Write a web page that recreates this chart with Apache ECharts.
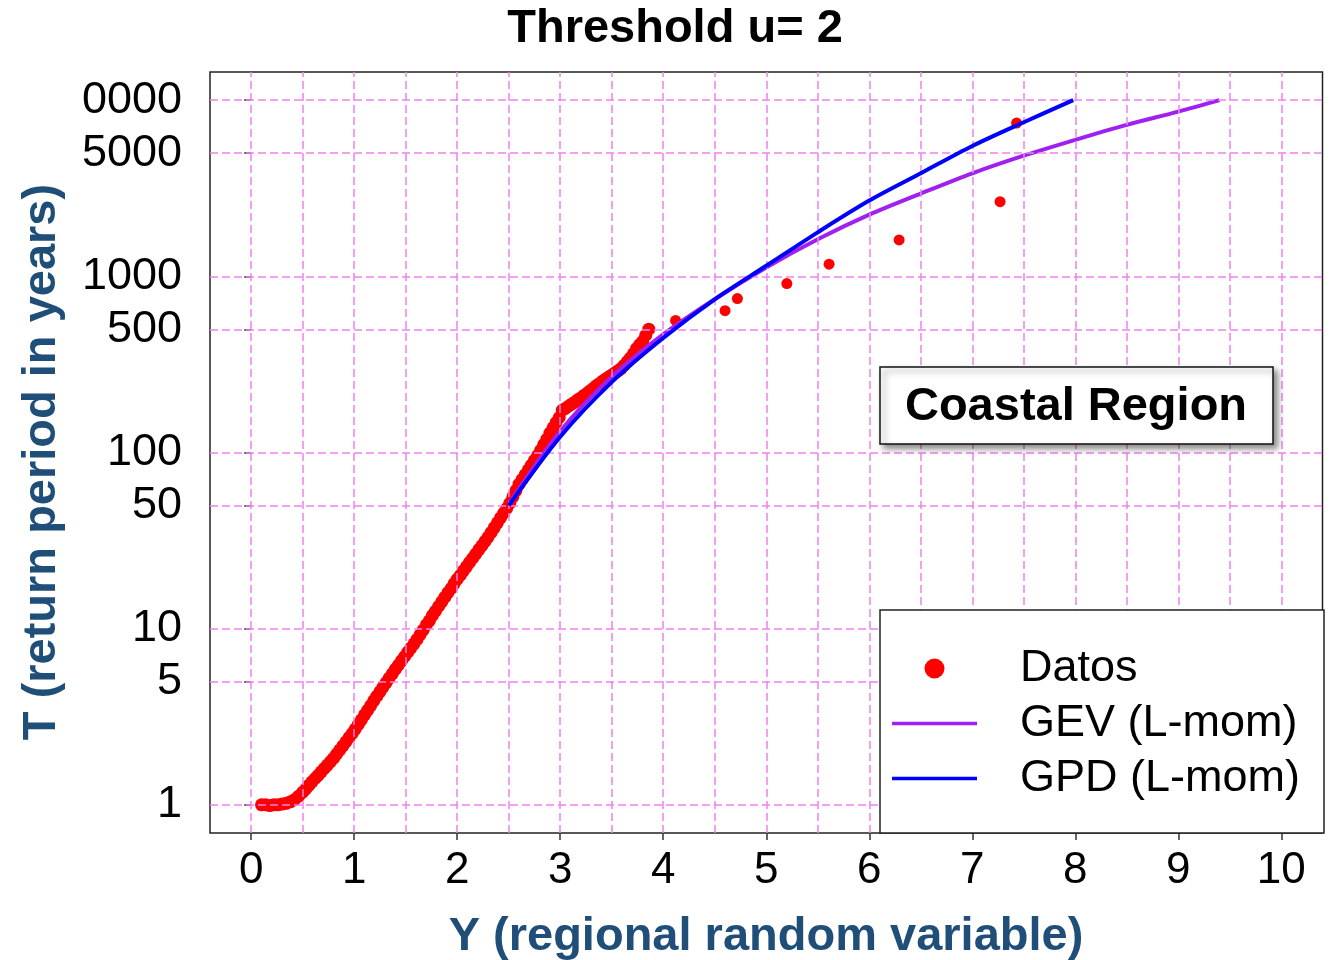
<!DOCTYPE html>
<html><head><meta charset="utf-8">
<script src="https://cdn.jsdelivr.net/npm/echarts@6/dist/echarts.min.js"></script>
<style>html,body{margin:0;padding:0;background:#fff}#c{width:1334px;height:960px}</style>
</head><body><div id="c"></div>
<script>
// ---- data ----
const datosY = [0.10,0.14,0.18,0.22,0.26,0.30,0.34,0.38,0.42,0.46,
  0.50,0.53,0.56,0.59,0.62,0.65,0.68,0.71,0.74,0.77,0.80,0.83,0.86,0.89,0.92,0.95,0.98,
  1.01,1.04,1.07,1.10,1.13,1.16,1.19,1.22,1.25,1.28,1.31,1.34,1.37,1.40,1.43,1.46,1.49,
  1.52,1.55,1.58,1.61,1.64,1.67,1.70,1.73,1.76,1.79,1.82,1.85,1.88,1.91,1.94,1.97,
  2.00,2.03,2.06,2.09,2.12,2.15,2.18,2.21,2.24,2.27,2.30,2.33,2.36,2.39,2.42,2.45,2.48,
  2.51,2.54,2.57,2.60,2.63,2.66,2.69,2.72,2.75,2.78,2.81,2.84,2.87,2.90,2.93,2.96,2.99,
  3.02,3.05,3.08,3.11,3.14,3.17,3.20,3.23,3.26,3.29,3.32,3.35,3.38,3.41,3.44,3.47,3.50,
  3.53,3.56,3.59,3.62,3.65,3.68,3.71,3.74,3.77,3.80,3.83,3.86,
  4.12,4.60,4.72,5.20,5.61,6.29,7.27,7.43];
const datosT = [1.00,1.00,0.99,1.00,1.00,1.01,1.02,1.04,1.07,1.12,
  1.18,1.23,1.29,1.35,1.41,1.47,1.54,1.61,1.68,1.76,1.84,1.94,2.05,2.16,2.28,2.41,2.54,
  2.69,2.86,3.04,3.24,3.44,3.66,3.90,4.14,4.39,4.66,4.94,5.24,5.55,5.89,6.22,6.58,6.95,
  7.35,7.76,8.20,8.69,9.25,9.84,10.5,11.1,11.9,12.6,13.4,14.2,15.1,16.0,16.9,18.0,
  19.1,20.1,21.3,22.5,23.8,25.1,26.5,28.1,29.6,31.3,33.1,35.2,37.5,39.9,42.5,45.2,48.1,
  51.5,56.0,60.8,66.1,70.3,74.8,79.6,84.7,90.2,95.9,103,111,119,129,138,148,158,
  174,178,183,188,193,199,204,211,217,224,231,239,246,254,261,268,275,
  283,291,299,312,327,344,363,389,409,427,463,501,
  562,638,748,910,1172,1610,2654,7410];

const gevY = [2.5,3.0,3.5,4.0,4.5,5.0,5.5,6.0,6.5,7.0,7.5,8.0,8.5,9.0,9.4];
const gevT = [51,132,269,468,741,1122,1622,2239,2951,3846,4842,5957,7244,8610,10000];

const gpdY = [2.5,3.0,3.5,4.0,4.5,5.0,5.5,6.0,6.5,7.0,7.5,7.98];
const gpdT = [50,123,251,447,741,1148,1778,2692,3846,5495,7499,10000];

const xTicks = [0,1,2,3,4,5,6,7,8,9,10];
const xGrid = [0,0.5,1,1.5,2,2.5,3,3.5,4,4.5,5,5.5,6,6.5,7,7.5,8,8.5,9,9.5,10];
const yTicks = [1,5,10,50,100,500,1000,5000,10000];
const yTickLabels = ['1','5','10','50','100','500','1000','5000','0000'];

const titleText = 'Threshold u= 2';
const xName = 'Y (regional random variable)';
const yName = 'T (return period in years)';
const boxText = 'Coastal Region';
const seriesNames = ['Datos','GEV (L-mom)','GPD (L-mom)'];

// ---- chart ----
const FONT = 'Liberation Sans, Arial, sans-serif';
const pairs = (xs, ys) => xs.map((x, i) => [x, ys[i]]);
const chart = echarts.init(document.getElementById('c'), null, {renderer: 'canvas'});
const lineIcon = 'path://M0,0H85V3.5H0Z';

chart.setOption({
  animation: false,
  backgroundColor: '#fff',
  grid: {left: 210, top: 72, right: 11.5, bottom: 127, show: true,
         borderColor: '#222', borderWidth: 1.5, backgroundColor: 'transparent'},
  xAxis: {
    type: 'value', min: -0.4, max: 10.4,
    axisLine: {show: false},
    splitLine: {show: false},
    axisTick: {show: true, customValues: xTicks, length: 7, lineStyle: {color: '#333', width: 1.5}},
    axisLabel: {customValues: xTicks, fontSize: 44, color: '#000', margin: 16, fontFamily: FONT}
  },
  yAxis: {
    type: 'log', logBase: 10, min: Math.pow(10, -0.16), max: Math.pow(10, 4.16),
    axisLine: {show: false},
    splitLine: {show: false},
    axisTick: {show: true, customValues: yTicks, length: 7, lineStyle: {color: '#333', width: 1.5}},
    axisLabel: {customValues: yTicks, fontSize: 45, color: '#000', margin: 28, fontFamily: FONT,
      formatter: v => { const i = yTicks.findIndex(t => Math.abs(t - v) / t < 1e-6); return i >= 0 ? yTickLabels[i] : ''; }}
  },
  legend: {
    data: [{name: seriesNames[0], icon: 'circle'},
           {name: seriesNames[1], icon: lineIcon},
           {name: seriesNames[2], icon: lineIcon}],
    orient: 'vertical', left: 880, top: 610,
    padding: [31, 24, 27, 12], itemGap: 0,
    itemWidth: 85, itemHeight: 20,
    backgroundColor: '#fff', borderColor: '#222', borderWidth: 1.5,
    textStyle: {fontSize: 45, color: '#000', fontFamily: FONT, lineHeight: 55, padding: [0, 0, 0, 38]},
    z: 20
  },
  series: [
    {
      name: 'gridlines', type: 'line', data: [], z: 1, silent: true,
      markLine: {
        silent: true, symbol: 'none', label: {show: false}, animation: false,
        lineStyle: {color: '#ee82ee', type: [8, 4], width: 1.5},
        emphasis: {disabled: true},
        data: xGrid.map(v => ({xAxis: v})).concat(yTicks.map(v => ({yAxis: v})))
      }
    },
    {
      name: seriesNames[0], type: 'scatter', z: 3,
      symbol: 'circle',
      symbolSize: (val) => val[0] < 3.9 ? 13 : 11,
      itemStyle: {color: '#ff0000', opacity: 1},
      data: pairs(datosY, datosT)
    },
    {
      name: seriesNames[1], type: 'line', z: 4, showSymbol: false, symbol: 'none', smooth: 0.3,
      lineStyle: {color: '#a020f0', width: 4}, itemStyle: {color: '#a020f0'},
      data: pairs(gevY, gevT)
    },
    {
      name: seriesNames[2], type: 'line', z: 5, showSymbol: false, symbol: 'none', smooth: 0.3,
      lineStyle: {color: '#0000ff', width: 4}, itemStyle: {color: '#0000ff'},
      data: pairs(gpdY, gpdT)
    }
  ],
  graphic: [
    {type: 'text', x: 675, y: 29, z: 100,
     style: {text: titleText, fontSize: 47, fontWeight: 'bold', fontFamily: FONT, fill: '#000',
             textAlign: 'center', textVerticalAlign: 'middle'}},
    {type: 'text', x: 766, y: 937, z: 100,
     style: {text: xName, fontSize: 47, fontWeight: 'bold', fontFamily: FONT, fill: '#1f4e79',
             textAlign: 'center', textVerticalAlign: 'middle'}},
    {type: 'text', x: 42, y: 462, rotation: Math.PI / 2, z: 100,
     style: {text: yName, fontSize: 47, fontWeight: 'bold', fontFamily: FONT, fill: '#1f4e79',
             textAlign: 'center', textVerticalAlign: 'middle'}},
    {type: 'rect', z: 100, shape: {x: 880, y: 367, width: 393, height: 77},
     style: {fill: '#fff', stroke: '#111', lineWidth: 1.5,
             shadowBlur: 6, shadowOffsetX: 4, shadowOffsetY: 4, shadowColor: 'rgba(0,0,0,0.45)'}},
    {type: 'text', x: 1076, y: 407, z: 101,
     style: {text: boxText, fontSize: 47, fontWeight: 'bold', fontFamily: FONT, fill: '#000',
             textAlign: 'center', textVerticalAlign: 'middle'}}
  ]
});
</script>
</body></html>
